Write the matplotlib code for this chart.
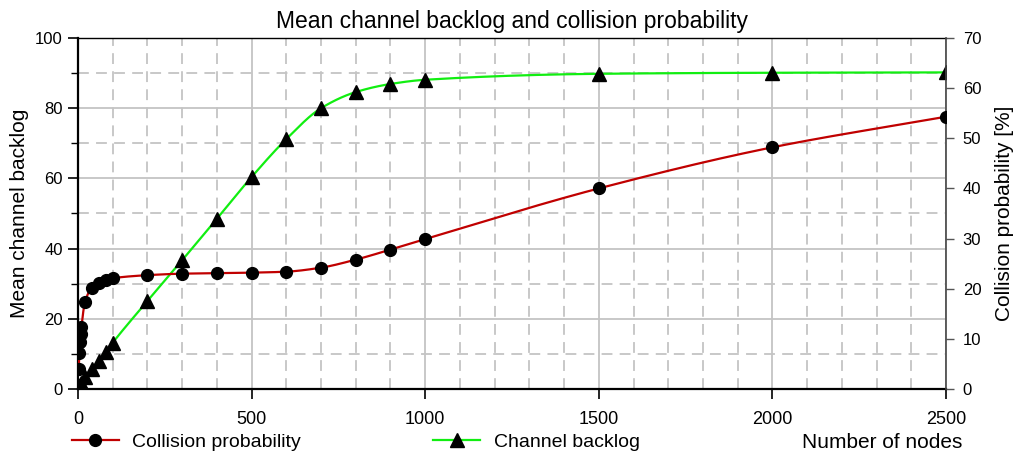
import numpy as np
import matplotlib
matplotlib.use("Agg")
import matplotlib.pyplot as plt
from matplotlib.ticker import MultipleLocator
from matplotlib.lines import Line2D

plt.rcParams['font.family'] = ['Liberation Sans', 'DejaVu Sans']

nodes = [2, 4, 6, 8, 10, 20, 40, 60, 80, 100, 200, 300, 400, 500, 600,
         700, 800, 900, 1000, 1500, 2000, 2500]
collision_pct = [3.9, 7.1, 9.3, 10.9, 12.4, 17.3, 20.2, 21.2, 21.8, 22.1,
                 22.7, 23.0, 23.1, 23.2, 23.4, 24.2, 25.8, 27.8, 29.9,
                 40.0, 48.2, 54.3]
backlog = [0.7, 0.9, 1.2, 1.4, 1.7, 3.3, 5.7, 8.1, 10.6, 13.2, 25.1, 36.7,
           48.5, 60.4, 71.2, 80.0, 84.6, 86.9, 88.1, 89.8, 90.1, 90.2]

title = "Mean channel backlog and collision probability"
xlabel = "Number of nodes"
ylabel_left = "Mean channel backlog"
ylabel_right = "Collision probability [%]"
label_coll = "Collision probability"
label_back = "Channel backlog"


def pchip(x, y, xn):
    x = np.asarray(x, float); y = np.asarray(y, float)
    h = np.diff(x); d = np.diff(y) / h
    n = len(x)
    m = np.zeros(n)
    for k in range(1, n - 1):
        if d[k - 1] * d[k] <= 0:
            m[k] = 0.0
        else:
            w1 = 2 * h[k] + h[k - 1]
            w2 = h[k] + 2 * h[k - 1]
            m[k] = (w1 + w2) / (w1 / d[k - 1] + w2 / d[k])
    m[0] = d[0]
    m[-1] = d[-1]
    idx = np.clip(np.searchsorted(x, xn) - 1, 0, n - 2)
    t = (xn - x[idx]) / h[idx]
    h00 = 2 * t**3 - 3 * t**2 + 1
    h10 = t**3 - 2 * t**2 + t
    h01 = -2 * t**3 + 3 * t**2
    h11 = t**3 - t**2
    return h00 * y[idx] + h10 * h[idx] * m[idx] + h01 * y[idx + 1] + h11 * h[idx] * m[idx + 1]


fig = plt.figure(figsize=(10.24, 4.65), dpi=100)
ax = fig.add_axes([78 / 1024, 1 - 389 / 465, (946 - 78) / 1024, (389 - 38) / 465])
ax2 = ax.twinx()

xs = np.concatenate([np.linspace(nodes[0], 100, 200), np.linspace(100, nodes[-1], 800)[1:]])

red = '#c00000'
green = '#11ee11'

ax.plot(xs, pchip(nodes, backlog, xs), color=green, lw=1.6, zorder=3)
ax.plot(nodes, backlog, linestyle='none', marker='^', color='black', ms=10, zorder=4)
ax2.plot(xs, pchip(nodes, collision_pct, xs), color=red, lw=1.6, zorder=3)
ax2.plot(nodes, collision_pct, linestyle='none', marker='o', color='black', ms=8.5, zorder=4)

ax.set_xlim(0, 2500)
ax.set_ylim(0, 100)
ax2.set_ylim(0, 70)

ax.xaxis.set_major_locator(MultipleLocator(500))
ax.xaxis.set_minor_locator(MultipleLocator(100))
ax.yaxis.set_major_locator(MultipleLocator(20))
ax.yaxis.set_minor_locator(MultipleLocator(10))
ax2.yaxis.set_major_locator(MultipleLocator(10))

ax.grid(which='major', color='#c4c4c4', lw=1.3, ls='-')
ax.grid(which='minor', color='#c4c4c4', lw=1.3, ls=(0, (6, 4)))
ax.set_axisbelow(True)

ax.tick_params(axis='x', which='major', direction='out', length=7, width=1.2, labelsize=13, pad=9)
ax.tick_params(axis='x', which='minor', length=0)
ax.tick_params(axis='y', which='major', direction='out', length=7, width=1.2, labelsize=12, pad=4)
ax.tick_params(axis='y', which='minor', direction='out', length=5, width=1.0)
ax2.tick_params(axis='y', which='major', direction='out', length=6, width=1.0, labelsize=12, pad=6,
                color='#555555')

for s in ['left', 'bottom']:
    ax.spines[s].set_linewidth(1.6)
    ax.spines[s].set_color('black')
ax.spines['top'].set_linewidth(1.0)
ax2.spines['top'].set_visible(False)
ax2.spines['left'].set_visible(False)
ax2.spines['bottom'].set_visible(False)
ax2.spines['right'].set_color('#444444')
ax2.spines['right'].set_linewidth(1.2)
ax.spines['right'].set_visible(False)

ax.set_ylabel(ylabel_left, fontsize=15, labelpad=4)
ax2.set_ylabel(ylabel_right, fontsize=15, labelpad=10)
fig.text(962 / 1024, 1 - 442 / 465, xlabel, fontsize=15, ha='right', va='center')
fig.text(0.5, 1 - 28 / 465, title, fontsize=16.5, ha='center', va='baseline')

handles = [Line2D([], [], color=red, lw=1.6, marker='o', mfc='black', mec='black', ms=8.5),
           Line2D([], [], color=green, lw=1.6, marker='^', mfc='black', mec='black', ms=10)]
fig.legend(handles, [label_coll, label_back], loc='center left',
           bbox_to_anchor=(72 / 1024, 1 - 442 / 465), ncol=2, frameon=False,
           fontsize=14, handlelength=2.4, handletextpad=0.7, columnspacing=6.8,
           borderaxespad=0, borderpad=0)

fig.savefig('out.png', dpi=100)
